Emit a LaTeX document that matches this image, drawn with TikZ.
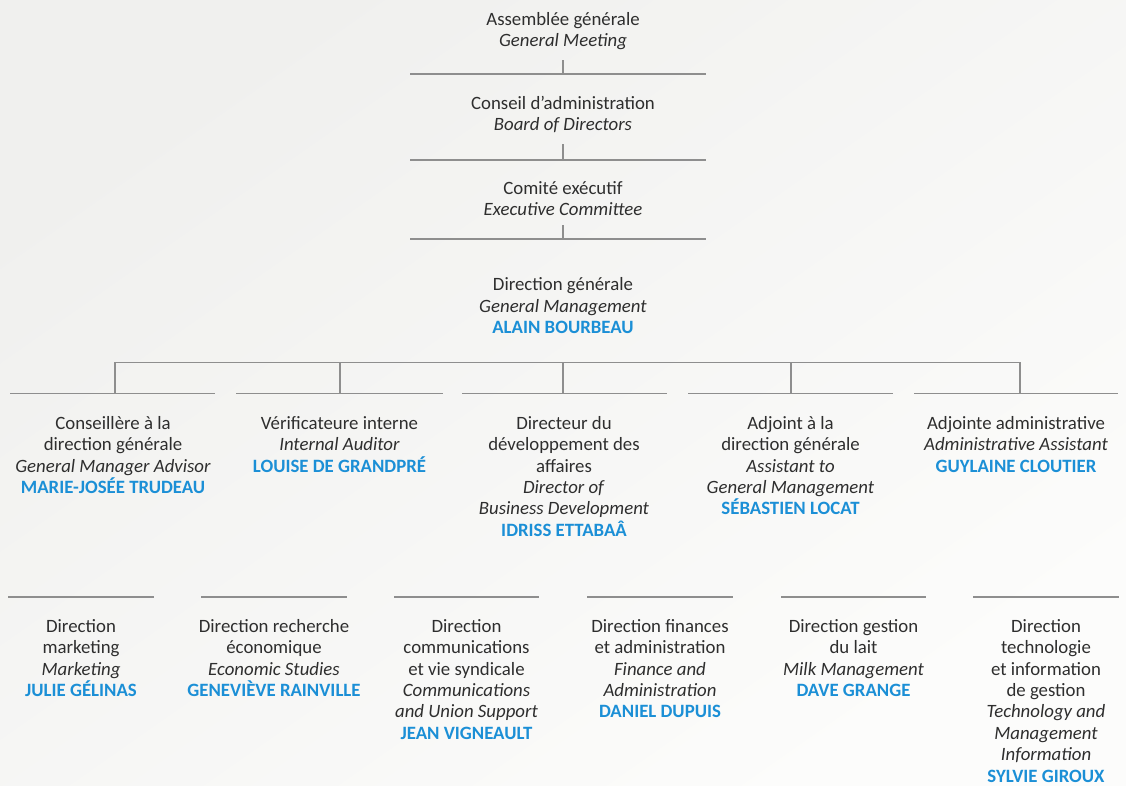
\documentclass[tikz,border=0pt]{standalone}
\usepackage{fontspec}
\setmainfont{Carlito}
\definecolor{txt}{HTML}{2E2E2E}
\definecolor{nmc}{HTML}{1B8FD6}
\definecolor{ln}{HTML}{8E8E8E}
\definecolor{bga}{HTML}{F0F0EE}
\definecolor{bgb}{HTML}{FCFCFB}
\newcommand\nm[1]{\textcolor{nmc}{\bfseries #1}}
\newcommand\tp{\rule{0pt}{16pt}}
\tikzset{
  lbl/.style={anchor=north, align=center, inner sep=0pt, text=txt,
    font=\fontsize{18.8}{21.4}\selectfont},
  rulerline/.style={draw=ln, line width=1.3pt}
}
\begin{document}
\begin{tikzpicture}[x=1pt,y=-1pt]
\shade[shading=axis, top color=bga, bottom color=bgb, shading angle=35] (0,0) rectangle (1126,785);
\useasboundingbox (0,0) rectangle (1126,785);

% top chain
\node[lbl] (ag) at (563,9) {\tp Assemblée générale\\\textit{General Meeting}};
\coordinate (t1a) at (563,60); \coordinate (t1b) at (563,74);
\coordinate (l1a) at (410,74); \coordinate (l1b) at (706,74);
\draw[rulerline] (t1a) -- (t1b); \draw[rulerline] (l1a) -- (l1b);

\node[lbl] (ca) at (563,93) {\tp Conseil d’administration\\\textit{Board of Directors}};
\coordinate (t2a) at (563,144); \coordinate (t2b) at (563,160);
\coordinate (l2a) at (410,160); \coordinate (l2b) at (706,160);
\draw[rulerline] (t2a) -- (t2b); \draw[rulerline] (l2a) -- (l2b);

\node[lbl] (ce) at (563,178) {\tp Comité exécutif\\\textit{Executive Committee}};
\coordinate (t3a) at (563,225); \coordinate (t3b) at (563,239);
\coordinate (l3a) at (410,239); \coordinate (l3b) at (706,239);
\draw[rulerline] (t3a) -- (t3b); \draw[rulerline] (l3a) -- (l3b);

\node[lbl] (dg) at (563,274.5) {\tp Direction générale\\\textit{General Management}\\\nm{ALAIN BOURBEAU}};

% bracket
\coordinate (bl) at (115,362.3); \coordinate (br) at (1020,362.3);
\draw[rulerline] (bl) -- (br);
\foreach \x in {115,340,563,791,1020}{
  \draw[rulerline] (\x,362.3) -- (\x,393.3);
}
\foreach \a/\b in {10/215, 236/443, 462/667, 688/893, 914/1118}{
  \draw[rulerline] (\a,393.3) -- (\b,393.3);
}

% second row
\node[lbl] (r1) at (113,413) {\tp Conseillère à la\\direction générale\\\textit{General Manager Advisor}\\\nm{MARIE-JOSÉE TRUDEAU}};
\node[lbl] (r2) at (339.5,413) {\tp Vérificateure interne\\\textit{Internal Auditor}\\\nm{LOUISE DE GRANDPRÉ}};
\node[lbl] (r3) at (564,413) {\tp Directeur du\\développement des\\affaires\\\textit{Director of}\\\textit{Business Development}\\\nm{IDRISS ETTABAÂ}};
\node[lbl] (r4) at (790.5,413) {\tp Adjoint à la\\direction générale\\\textit{Assistant to}\\\textit{General Management}\\\nm{SÉBASTIEN LOCAT}};
\node[lbl] (r5) at (1016,413) {\tp Adjointe administrative\\\textit{Administrative Assistant}\\\nm{GUYLAINE CLOUTIER}};

% third row lines
\foreach \a/\b in {8/154, 201/347, 394/539, 587/733, 781/926, 973/1119}{
  \draw[rulerline] (\a,597) -- (\b,597);
}

% third row
\node[lbl] (d1) at (81,616) {\tp Direction\\marketing\\\textit{Marketing}\\\nm{JULIE GÉLINAS}};
\node[lbl] (d2) at (274,616) {\tp Direction recherche\\économique\\\textit{Economic Studies}\\\nm{GENEVIÈVE RAINVILLE}};
\node[lbl] (d3) at (466.5,616) {\tp Direction\\communications\\et vie syndicale\\\textit{Communications}\\\textit{and Union Support}\\\nm{JEAN VIGNEAULT}};
\node[lbl] (d4) at (660,616) {\tp Direction finances\\et administration\\\textit{Finance and}\\\textit{Administration}\\\nm{DANIEL DUPUIS}};
\node[lbl] (d5) at (853.5,616) {\tp Direction gestion\\du lait\\\textit{Milk Management}\\\nm{DAVE GRANGE}};
\node[lbl] (d6) at (1046,616) {\tp Direction\\technologie\\et information\\de gestion\\\textit{Technology and}\\\textit{Management}\\\textit{Information}\\\nm{SYLVIE GIROUX}};
\end{tikzpicture}
\end{document}
